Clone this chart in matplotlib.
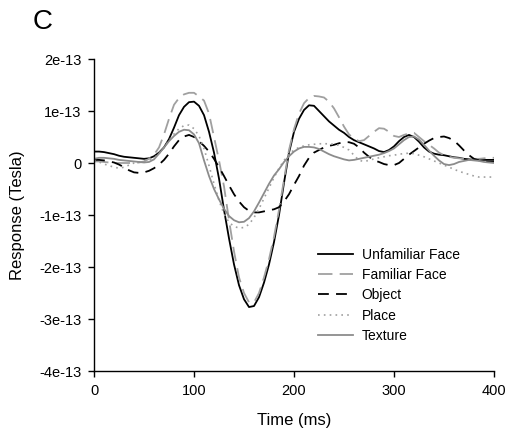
import matplotlib
matplotlib.use("Agg")
import matplotlib.pyplot as plt
from matplotlib.ticker import FuncFormatter
import numpy as np

plt.rcParams['font.family'] = ['Liberation Sans', 'DejaVu Sans']

time_ms = list(range(0, 401, 5))

unfamiliar_face = [0.22, 0.22, 0.21, 0.19, 0.17, 0.14, 0.12, 0.11, 0.10, 0.09, 0.08, 0.09, 0.13, 0.20, 0.30, 0.46, 0.68, 0.92, 1.08, 1.17,
                   1.18, 1.10, 0.92, 0.60, 0.20, -0.30, -0.90, -1.45, -1.95, -2.35, -2.62, -2.77, -2.75, -2.58, -2.30, -1.95, -1.52, -1.00, -0.38, 0.20,
                   0.60, 0.85, 1.02, 1.11, 1.10, 1.00, 0.90, 0.80, 0.72, 0.64, 0.58, 0.50, 0.44, 0.40, 0.36, 0.32, 0.28, 0.23, 0.21, 0.25,
                   0.32, 0.42, 0.50, 0.54, 0.50, 0.41, 0.30, 0.22, 0.18, 0.16, 0.15, 0.13, 0.11, 0.10, 0.08, 0.07, 0.06, 0.06, 0.06, 0.06, 0.06]

familiar_face = [0.03, 0.03, 0.02, 0.01, 0.00, 0.00, 0.00, 0.00, 0.00, 0.01, 0.03, 0.08, 0.16, 0.30, 0.55, 0.85, 1.12, 1.25, 1.32, 1.35,
                 1.35, 1.28, 1.20, 0.95, 0.50, 0.05, -0.45, -1.10, -1.70, -2.20, -2.50, -2.68, -2.68, -2.50, -2.20, -1.85, -1.42, -0.90, -0.32, 0.25,
                 0.65, 0.95, 1.15, 1.25, 1.29, 1.28, 1.26, 1.18, 1.05, 0.88, 0.70, 0.55, 0.47, 0.42, 0.44, 0.52, 0.60, 0.67, 0.66, 0.60,
                 0.52, 0.50, 0.54, 0.57, 0.58, 0.50, 0.42, 0.35, 0.28, 0.20, 0.15, 0.12, 0.10, 0.09, 0.08, 0.08, 0.08, 0.08, 0.09, 0.10, 0.10]

object_ = [0.06, 0.06, 0.05, 0.03, 0.01, -0.03, -0.08, -0.14, -0.18, -0.19, -0.18, -0.15, -0.10, -0.03, 0.06, 0.18, 0.32, 0.44, 0.51, 0.54,
           0.50, 0.42, 0.33, 0.22, 0.08, -0.08, -0.25, -0.43, -0.60, -0.74, -0.85, -0.92, -0.95, -0.95, -0.93, -0.91, -0.89, -0.85, -0.74, -0.60,
           -0.42, -0.25, -0.05, 0.10, 0.20, 0.25, 0.30, 0.33, 0.35, 0.38, 0.40, 0.40, 0.37, 0.30, 0.20, 0.12, 0.05, 0.02, -0.02, -0.04,
           -0.04, 0.00, 0.08, 0.16, 0.23, 0.30, 0.37, 0.43, 0.48, 0.50, 0.51, 0.48, 0.43, 0.34, 0.24, 0.15, 0.08, 0.05, 0.03, 0.02, 0.02]

place = [0.05, 0.02, -0.02, -0.05, -0.08, -0.10, -0.08, -0.04, 0.00, 0.02, 0.04, 0.06, 0.10, 0.18, 0.30, 0.43, 0.56, 0.66, 0.72, 0.73,
         0.66, 0.52, 0.28, -0.05, -0.40, -0.72, -0.98, -1.14, -1.22, -1.25, -1.24, -1.18, -1.05, -0.88, -0.68, -0.48, -0.28, -0.10, 0.05, 0.17,
         0.25, 0.30, 0.33, 0.35, 0.36, 0.37, 0.37, 0.37, 0.36, 0.34, 0.30, 0.25, 0.15, 0.05, 0.03, 0.05, 0.08, 0.10, 0.12, 0.14,
         0.15, 0.17, 0.18, 0.19, 0.18, 0.15, 0.12, 0.08, 0.04, 0.00, -0.04, -0.08, -0.12, -0.16, -0.19, -0.22, -0.25, -0.27, -0.27, -0.27, -0.27]

texture = [0.08, 0.10, 0.10, 0.09, 0.08, 0.06, 0.05, 0.04, 0.03, 0.02, 0.01, 0.02, 0.07, 0.18, 0.30, 0.42, 0.52, 0.60, 0.64, 0.63,
           0.55, 0.38, 0.05, -0.25, -0.50, -0.70, -0.88, -1.02, -1.10, -1.14, -1.13, -1.06, -0.93, -0.76, -0.58, -0.40, -0.24, -0.12, 0.02, 0.13,
           0.22, 0.28, 0.31, 0.31, 0.30, 0.27, 0.22, 0.17, 0.13, 0.10, 0.07, 0.05, 0.06, 0.08, 0.10, 0.12, 0.14, 0.16, 0.19, 0.23,
           0.28, 0.36, 0.44, 0.50, 0.51, 0.45, 0.35, 0.24, 0.14, 0.05, -0.02, -0.04, -0.02, 0.02, 0.04, 0.06, 0.05, 0.04, 0.02, 0.01, 0.00]

series_labels = ["Unfamiliar Face", "Familiar Face", "Object", "Place", "Texture"]
x_ticks = [0, 100, 200, 300, 400]
y_ticks = [-4, -3, -2, -1, 0, 1, 2]
SCALE = 1e-13

fig = plt.figure(figsize=(5.06, 4.42), dpi=100)
ax = fig.add_axes([0.1858, 0.1606, 0.7905, 0.7059])

t = np.array(time_ms)
styles = [
    dict(color="#000000", lw=1.3, ls="-"),
    dict(color="#a0a0a0", lw=1.3, ls=(0, (8, 4))),
    dict(color="#000000", lw=1.3, ls=(0, (6, 4))),
    dict(color="#a0a0a0", lw=1.2, ls=(0, (1, 2.5))),
    dict(color="#8c8c8c", lw=1.3, ls="-"),
]
for vals, lab, st in zip([unfamiliar_face, familiar_face, object_, place, texture], series_labels, styles):
    ax.plot(t, np.array(vals) * SCALE, label=lab, color=st["color"], lw=st["lw"], linestyle=st["ls"])

ax.set_xlim(0, 400)
ax.set_ylim(-4 * SCALE, 2 * SCALE)
ax.set_xticks(x_ticks)
ax.set_yticks([v * SCALE for v in y_ticks])

def fmt(v, pos):
    n = int(round(v / SCALE))
    return "0" if n == 0 else f"{n}e-13"

ax.yaxis.set_major_formatter(FuncFormatter(fmt))
for s in ["top", "right"]:
    ax.spines[s].set_visible(False)
for s in ["left", "bottom"]:
    ax.spines[s].set_linewidth(1.0)
ax.tick_params(axis="both", direction="out", length=4, width=1.0, labelsize=10.5)
ax.tick_params(axis="y", pad=5)
ax.tick_params(axis="x", pad=5)
ax.set_xlabel("Time (ms)", fontsize=12, labelpad=11)
ax.set_ylabel("Response (Tesla)", fontsize=12, labelpad=10)

fig.text(0.065, 0.95, "C", fontsize=20, ha="left", va="center")

ax.legend(loc="upper left", bbox_to_anchor=(0.56, 0.395), frameon=False, fontsize=10,
          handlelength=2.5, handletextpad=0.65, labelspacing=0.45, borderpad=0, borderaxespad=0)

fig.savefig("out.png", dpi=100)
